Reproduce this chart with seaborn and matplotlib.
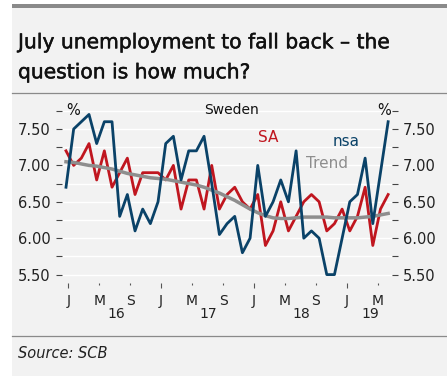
import matplotlib
matplotlib.use("Agg")
import matplotlib.pyplot as plt
import matplotlib.patheffects as pe
import seaborn as sns
import pandas as pd
import numpy as np
from matplotlib.lines import Line2D
from matplotlib.patches import Rectangle
from matplotlib.transforms import blended_transform_factory

# ---- data (monthly, Jan 2016 - Jul 2019) ----
months = pd.date_range("2016-01-01", "2019-07-01", freq="MS").strftime("%Y-%m").tolist()
nsa = [6.7, 7.5, 7.6, 7.7, 7.3, 7.6, 7.6, 6.3, 6.6, 6.1, 6.4, 6.2,
       6.5, 7.3, 7.4, 6.8, 7.2, 7.2, 7.4, 6.75, 6.05, 6.2, 6.3, 5.8,
       6.0, 7.0, 6.3, 6.5, 6.8, 6.5, 7.2, 6.0, 6.1, 6.0, 5.5, 5.5,
       6.0, 6.5, 6.6, 7.1, 6.2, 6.9, 7.6]
sa = [7.2, 7.0, 7.1, 7.3, 6.8, 7.2, 6.7, 6.9, 7.1, 6.6, 6.9, 6.9,
      6.9, 6.8, 7.0, 6.4, 6.8, 6.8, 6.4, 7.0, 6.4, 6.6, 6.7, 6.5,
      6.4, 6.6, 5.9, 6.1, 6.5, 6.1, 6.3, 6.5, 6.6, 6.5, 6.1, 6.2,
      6.4, 6.1, 6.3, 6.7, 5.9, 6.4, 6.6]
trend = [7.05, 7.04, 7.02, 7.00, 6.99, 6.97, 6.95, 6.92, 6.89, 6.87, 6.85, 6.83,
         6.82, 6.81, 6.79, 6.77, 6.75, 6.73, 6.70, 6.66, 6.62, 6.57, 6.52, 6.46,
         6.40, 6.35, 6.31, 6.28, 6.27, 6.27, 6.28, 6.29, 6.29, 6.29, 6.29, 6.28,
         6.28, 6.28, 6.28, 6.29, 6.30, 6.32, 6.34]
month_labels = ["J", "M", "S"] * 3 + ["J", "M"]
year_labels = ["16", "17", "18", "19"]
y_labels = ["5.50", "", "6.00", "", "6.50", "", "7.00", "", "7.50", ""]

BLUE = "#0a4268"
RED = "#c0161f"
GRAY = "#8e8e8e"
BG = "#f2f2f2"

idx = np.arange(len(months))
df = pd.DataFrame({
    "t": np.concatenate([idx, idx, idx]),
    "value": sa + trend + nsa,
    "series": ["SA"] * len(sa) + ["Trend"] * len(trend) + ["nsa"] * len(nsa),
})

plt.rcParams["font.family"] = ["DejaVu Sans"]
fig = plt.figure(figsize=(4.47, 3.76), dpi=100)
fig.patch.set_facecolor("white")
W, H = 447, 376

def fx(px):
    return px / W

def fy(py):
    return 1 - py / H

# background panels
fig.add_artist(Rectangle((fx(12), 0), 1 - fx(12), fy(8), transform=fig.transFigure,
                         facecolor=BG, edgecolor="none", zorder=-10))
fig.add_artist(Rectangle((fx(12), fy(8.3)), 1 - fx(12), fy(4) - fy(8.3), transform=fig.transFigure,
                         facecolor="#8a8a8a", edgecolor="none", zorder=-9))
fig.add_artist(Line2D([fx(12), 1], [fy(93), fy(93)], transform=fig.transFigure,
                      color="#8a8a8a", lw=0.9))
fig.add_artist(Line2D([fx(12), 1], [fy(336), fy(336)], transform=fig.transFigure,
                      color="#8a8a8a", lw=0.9))

title_fx = [pe.withStroke(linewidth=0.35, foreground="#111111")]
fig.text(fx(18), fy(48.3), "July unemployment to fall back \u2013 the", fontsize=14.6,
         fontweight="normal", color="#111111", va="baseline", path_effects=title_fx)
fig.text(fx(18), fy(78.3), "question is how much?", fontsize=14.6,
         fontweight="normal", color="#111111", va="baseline", path_effects=title_fx)
fig.text(fx(18), fy(358), "Source: SCB", fontsize=10.5, style="italic", color="#222222",
         va="baseline")

# axes
y_top, y_bot = 7.85, 5.38
px_top = 129 + (7.5 - y_top) * 72.8
px_bot = 129 + (7.5 - y_bot) * 72.8
ax = fig.add_axes([fx(62), fy(px_bot), fx(392) - fx(62), (px_bot - px_top) / H])
ax.set_facecolor(BG)

yt = np.arange(5.5, 7.76, 0.25)
for v in yt:
    ax.axhline(v, color="white", lw=1.0, zorder=0)

sns.lineplot(data=df, x="t", y="value", hue="series", size="series",
             sizes={"SA": 2.0, "Trend": 2.5, "nsa": 2.0},
             palette={"nsa": BLUE, "SA": RED, "Trend": GRAY},
             hue_order=["SA", "Trend", "nsa"], legend=False, ax=ax, zorder=3)

ax.set_xlim((62 - 66) / 7.67, (392 - 66) / 7.67)
ax.set_ylim(y_bot, y_top)
for s in ax.spines.values():
    s.set_visible(False)
ax.set_xlabel("")
ax.set_ylabel("")

ax.set_yticks(yt)
ax.set_yticklabels(y_labels)
ax.tick_params(axis="y", which="both", length=4, width=0.8, color="#444444",
               labelsize=10.5, labelcolor="#222222", pad=4,
               left=True, right=True, labelleft=True, labelright=True)

tick_pos = [0.3 + 4.034 * k for k in range(len(month_labels))]
major = [p for p, l in zip(tick_pos, month_labels) if l == "J"]
minor = [p for p, l in zip(tick_pos, month_labels) if l != "J"]
ax.set_xticks(major)
ax.set_xticklabels(["J"] * len(major))
ax.set_xticks(minor, minor=True)
ax.set_xticklabels([l for l in month_labels if l != "J"], minor=True)
ax.tick_params(axis="x", which="major", length=3.5, width=0.8, color="#555555",
               labelsize=10, labelcolor="#222222", pad=4)
ax.tick_params(axis="x", which="minor", length=1.5, width=0.8, color="#555555",
               labelsize=10, labelcolor="#222222", pad=6)

trans = blended_transform_factory(ax.transData, ax.transAxes)
year_pos = [6.6, 18.6, 30.7, 39.7]
for p, l in zip(year_pos, year_labels):
    ax.text(p, -0.17, l, transform=trans, ha="center", va="center", fontsize=10, color="#222222")

ax.text(0.0, 7.75, "%", ha="left", va="center", fontsize=10.5, color="#111111")
ax.text(42.35, 7.75, "%", ha="right", va="center", fontsize=10.5, color="#111111")
ax.text(21.6, 7.76, "Sweden", ha="center", va="center", fontsize=10, color="#111111")
ax.text(26.3, 7.39, "SA", ha="center", va="center", fontsize=11, color=RED)
ax.text(36.5, 7.335, "nsa", ha="center", va="center", fontsize=11, color=BLUE)
ax.text(34.0, 7.03, "Trend", ha="center", va="center", fontsize=11, color=GRAY)

fig.savefig("out.png", dpi=100, facecolor=fig.get_facecolor())
